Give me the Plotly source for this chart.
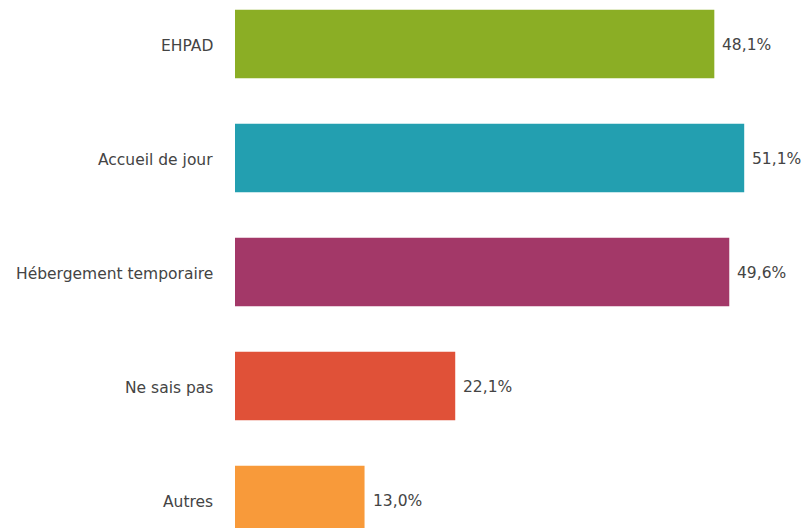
import plotly.graph_objects as go

categories = ["EHPAD", "Accueil de jour", "Hébergement temporaire", "Ne sais pas", "Autres"]
values = [48.1, 51.1, 49.6, 22.1, 13.0]
colors = ["#8BAE25", "#239FB0", "#A33868", "#E05138", "#F89A3A"]

labels = [f"{v:.1f}".replace(".", ",") + "%" for v in values]
positions = list(range(len(categories)))

FONT = "DejaVu Sans, Liberation Sans, Arial, sans-serif"
TEXT_COLOR = "#444444"

fig = go.Figure(
    go.Bar(
        x=values,
        y=positions,
        orientation="h",
        width=0.6,
        marker=dict(color=colors, line=dict(width=0)),
        hoverinfo="skip",
    )
)

# category names, right-aligned to the left of the bars
for pos, cat in zip(positions, categories):
    fig.add_annotation(
        x=0,
        y=pos,
        xref="x",
        text=cat,
        showarrow=False,
        xanchor="right",
        yanchor="middle",
        xshift=-20,
        yshift=-2,
        font=dict(family=FONT, size=15.5, color=TEXT_COLOR),
    )

# value labels just past the end of each bar
for pos, val, lab in zip(positions, values, labels):
    fig.add_annotation(
        x=val,
        y=pos,
        text=lab,
        showarrow=False,
        xanchor="left",
        yanchor="middle",
        xshift=6,
        yshift=-1,
        font=dict(family=FONT, size=15.5, color=TEXT_COLOR),
    )

fig.update_layout(
    width=805,
    height=528,
    margin=dict(l=235, r=0, t=0, b=0),
    paper_bgcolor="white",
    plot_bgcolor="white",
    showlegend=False,
    font=dict(family=FONT, size=15.5, color=TEXT_COLOR),
    xaxis=dict(range=[0, 57.2], visible=False, fixedrange=True),
    yaxis=dict(
        range=[4.246, -0.386],
        showticklabels=False,
        showgrid=False,
        zeroline=False,
        showline=False,
        ticks="",
        fixedrange=True,
    ),
)

fig.write_html("out.html")
